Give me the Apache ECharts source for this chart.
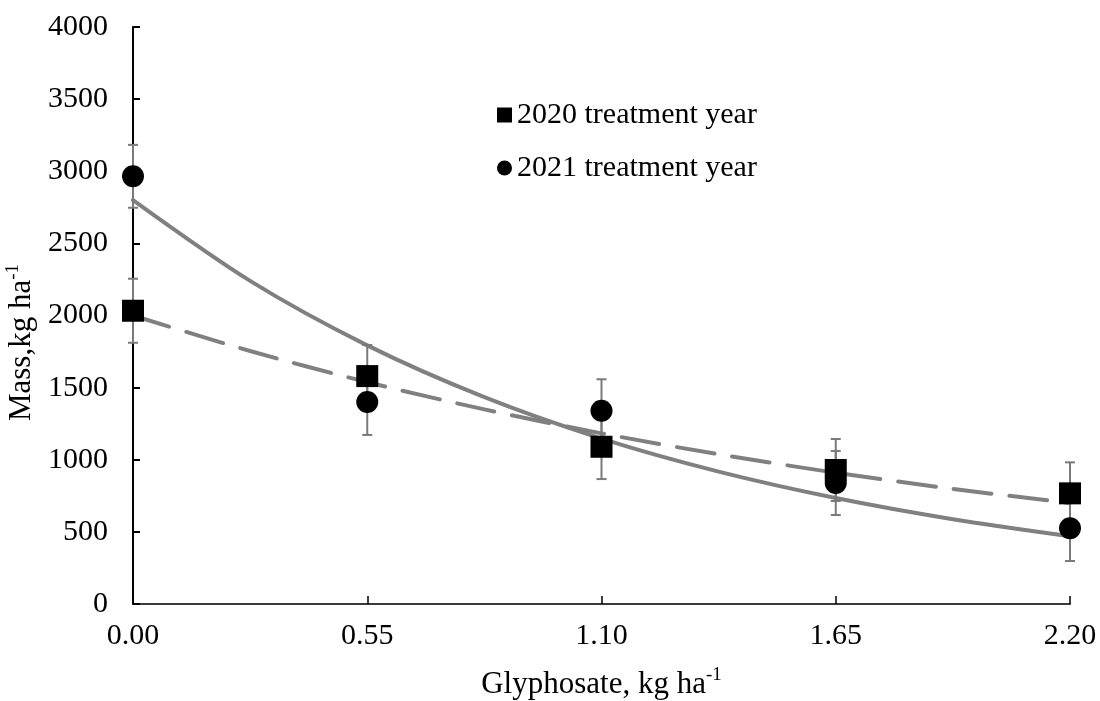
<!DOCTYPE html>
<html>
<head>
<meta charset="utf-8">
<script src="https://cdn.jsdelivr.net/npm/echarts@6/dist/echarts.min.js"></script>
<style>
  html, body { margin: 0; padding: 0; background: #ffffff; }
  #chart { width: 1100px; height: 701px; }
</style>
</head>
<body>
<div id="chart"></div>
<script>
// Glyphosate rate (kg ha-1)
const rates = [0.00, 0.55, 1.10, 1.65, 2.20];

// Mean mass (kg ha-1) and standard errors per treatment year
const mass2020 = [2033, 1580, 1090, 929, 767];
const err2020  = [222, 215, 224, 215, 215];
const mass2021 = [2965, 1400, 1340, 839, 525];
const err2021  = [218, 228, 218, 222, 227];

// Fitted response curves, read at quarter steps of the 0.55 rate
const curveX    = [0, 0.275, 0.55, 0.825, 1.10, 1.375, 1.65, 1.925, 2.20];
const curve2020 = [2000, 1754, 1538, 1349, 1183, 1038, 910, 798, 700];
const curve2021 = [2800, 2240, 1793, 1434, 1147, 918, 735, 588, 470];

// Axis ticks
const yTicks = [0, 500, 1000, 1500, 2000, 2500, 3000, 3500, 4000];
const xTicks = rates;

const FONT = 'Liberation Serif';
const GREY = '#808080';

const pts = (xs, ys) => xs.map((x, i) => [x, ys[i]]);
const bars = (xs, ys, es) => xs.map((x, i) => [x, ys[i] - es[i], ys[i] + es[i]]);

function errorBar(params, api) {
  const x = api.value(0);
  const lo = api.coord([x, api.value(1)]);
  const hi = api.coord([x, api.value(2)]);
  const hw = 5;
  const style = { stroke: '#7a7a7a', lineWidth: 2 };
  return {
    type: 'group',
    children: [
      { type: 'line', shape: { x1: lo[0], y1: lo[1], x2: hi[0], y2: hi[1] }, style },
      { type: 'line', shape: { x1: hi[0] - hw, y1: hi[1], x2: hi[0] + hw, y2: hi[1] }, style },
      { type: 'line', shape: { x1: lo[0] - hw, y1: lo[1], x2: lo[0] + hw, y2: lo[1] }, style }
    ]
  };
}

const titleRich = {
  a: { fontFamily: FONT, fontSize: 31, color: '#000', lineHeight: 34, verticalAlign: 'bottom' },
  s: { fontFamily: FONT, fontSize: 19, color: '#000', lineHeight: 34, verticalAlign: 'top' }
};

const chart = echarts.init(document.getElementById('chart'), null, { renderer: 'canvas' });

chart.setOption({
  backgroundColor: '#ffffff',
  animation: false,
  textStyle: { fontFamily: FONT, color: '#000' },
  grid: { left: 133, right: 30, top: 27, bottom: 97, containLabel: false, outerBoundsMode: 'none' },
  legend: {
    orient: 'vertical',
    left: 492,
    top: 95,
    itemWidth: 15,
    itemHeight: 15,
    itemGap: 23,
    textStyle: { fontFamily: FONT, fontSize: 30, color: '#000' },
    itemStyle: { opacity: 1 },
    data: [
      { name: '2020 treatment year', icon: 'rect' },
      { name: '2021 treatment year', icon: 'circle' }
    ]
  },
  xAxis: {
    type: 'value',
    min: xTicks[0],
    max: xTicks[xTicks.length - 1],
    interval: 0.55,
    splitLine: { show: false },
    axisLine: { lineStyle: { color: '#3a3a3a', width: 2 } },
    axisTick: { inside: true, length: 8, lineStyle: { color: '#000', width: 1.5 } },
    axisLabel: {
      margin: 17,
      fontFamily: FONT, fontSize: 30, color: '#000',
      formatter: v => v.toFixed(2)
    },
    name: '{a|Glyphosate, kg ha}{s|-1}',
    nameLocation: 'middle',
    nameGap: 62,
    nameTextStyle: { rich: titleRich }
  },
  yAxis: {
    type: 'value',
    min: yTicks[0],
    max: yTicks[yTicks.length - 1],
    interval: 500,
    splitLine: { show: false },
    axisLine: { show: true, lineStyle: { color: '#000', width: 2 } },
    axisTick: { show: true, inside: true, length: 7, lineStyle: { color: '#000', width: 2 } },
    axisLabel: {
      margin: 25,
      fontFamily: FONT, fontSize: 30, color: '#000',
      formatter: v => String(v)
    },
    name: '{a|Mass,kg ha}{s|-1}',
    nameLocation: 'middle',
    nameRotate: 90,
    nameGap: 92,
    nameTextStyle: { rich: titleRich, padding: [0, 54, 0, 0] }
  },
  series: [
    {
      name: 'fit2020',
      type: 'line',
      data: pts(curveX, curve2020),
      smooth: 0.3,
      showSymbol: false,
      silent: true,
      z: 1,
      lineStyle: { color: GREY, width: 4, type: [38, 18], cap: 'round' }
    },
    {
      name: 'fit2021',
      type: 'line',
      data: pts(curveX, curve2021),
      smooth: 0.3,
      showSymbol: false,
      silent: true,
      z: 1,
      lineStyle: { color: GREY, width: 4, type: 'solid', cap: 'round' }
    },
    {
      name: 'err2020',
      type: 'custom',
      renderItem: errorBar,
      data: bars(rates, mass2020, err2020),
      encode: { x: 0, y: [1, 2] },
      silent: true,
      z: 2
    },
    {
      name: 'err2021',
      type: 'custom',
      renderItem: errorBar,
      data: bars(rates, mass2021, err2021),
      encode: { x: 0, y: [1, 2] },
      silent: true,
      z: 2
    },
    {
      name: '2020 treatment year',
      type: 'scatter',
      symbol: 'rect',
      symbolSize: 22,
      data: pts(rates, mass2020),
      itemStyle: { color: '#000', opacity: 1 },
      z: 3
    },
    {
      name: '2021 treatment year',
      type: 'scatter',
      symbol: 'circle',
      symbolSize: 22,
      data: pts(rates, mass2021),
      itemStyle: { color: '#000', opacity: 1 },
      z: 3
    }
  ]
});
</script>
</body>
</html>
